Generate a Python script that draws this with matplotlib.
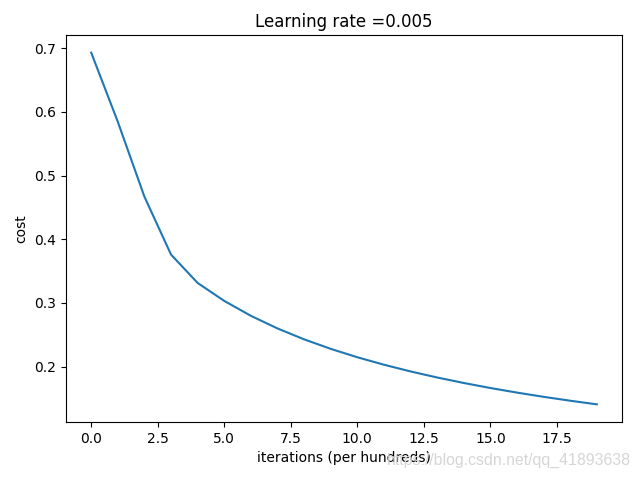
import numpy as np
import matplotlib
matplotlib.use('Agg')
import matplotlib.pyplot as plt

# cost recorded every 100 iterations
costs = [0.693147, 0.584508, 0.466949, 0.376007, 0.331463, 0.303273,
         0.279880, 0.260042, 0.242941, 0.228004, 0.214820, 0.203078,
         0.192544, 0.183033, 0.174399, 0.166521, 0.159305, 0.152667,
         0.146542, 0.140872]
learning_rate = 0.005

fig = plt.figure(figsize=(6.4, 4.8), dpi=100)
plt.plot(np.squeeze(costs))
plt.ylabel('cost')
plt.xlabel('iterations (per hundreds)')
plt.title("Learning rate =" + str(learning_rate))
plt.subplots_adjust(left=0.103, right=0.972, top=0.927, bottom=0.121)
# watermark from the source image
fig.text(0.986, 0.04, 'https://blog.csdn.net/qq_41893638', ha='right', va='center',
         color='#d6d6d6', fontsize=11.4, family='Liberation Sans')
plt.savefig('out.png')
